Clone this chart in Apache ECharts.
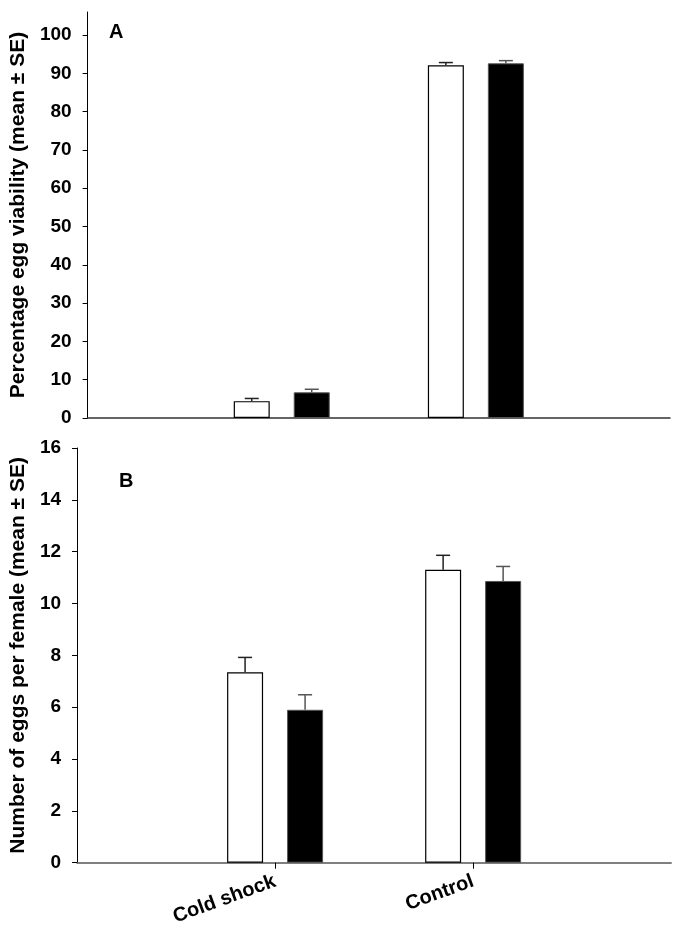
<!DOCTYPE html>
<html>
<head>
<meta charset="utf-8">
<script src="https://cdn.jsdelivr.net/npm/echarts@6/dist/echarts.min.js"></script>
<style>html,body{margin:0;padding:0;background:#fff}#c{width:674px;height:928px}</style>
</head>
<body>
<div id="c"></div>
<script>
const categories = ['', 'Cold shock', 'Control', ''];
// Panel A: percentage egg viability
const viabilityWhite = [null, 4.4, 92.1, null];
const viabilityWhiteSE = [null, 0.7, 0.7, null];
const viabilityBlack = [null, 6.7, 92.6, null];
const viabilityBlackSE = [null, 0.8, 0.7, null];
// Panel B: number of eggs per female
const eggsWhite = [null, 7.35, 11.3, null];
const eggsWhiteSE = [null, 0.57, 0.56, null];
const eggsBlack = [null, 5.9, 10.87, null];
const eggsBlackSE = [null, 0.58, 0.56, null];
const ticksA = [0, 10, 20, 30, 40, 50, 60, 70, 80, 90, 100];
const ticksB = [0, 2, 4, 6, 8, 10, 12, 14, 16];

const FONT = 'Liberation Sans';
const BAR_W = 36;
const BAR_GAP_PX = 24;

function errData(means, ses, sign) {
  const out = [];
  means.forEach((m, i) => { if (m != null) out.push([i, m, ses[i], sign]); });
  return out;
}
function errSeries(idx, means, ses, sign, color) {
  return {
    type: 'custom', xAxisIndex: idx, yAxisIndex: idx, z: 5,
    data: errData(means, ses, sign),
    renderItem: function (params, api) {
      const off = api.value(3) * (BAR_W + BAR_GAP_PX) / 2;
      const p0 = api.coord([api.value(0), api.value(1)]);
      const p1 = api.coord([api.value(0), api.value(1) + api.value(2)]);
      const x = p0[0] + off;
      const cw = 7;
      return {
        type: 'group',
        children: [
          { type: 'line', shape: { x1: x, y1: p0[1], x2: x, y2: p1[1] }, style: { stroke: color, lineWidth: 1.5 } },
          { type: 'line', shape: { x1: x - cw, y1: p1[1], x2: x + cw, y2: p1[1] }, style: { stroke: color, lineWidth: 1.5 } }
        ]
      };
    }
  };
}
const tickLabelStyle = { fontFamily: FONT, fontWeight: 'bold', fontSize: 19, color: '#000' };
const titleStyle = { fontFamily: FONT, fontWeight: 'bold', fontSize: 21, color: '#000' };

const chart = echarts.init(document.getElementById('c'), null, { renderer: 'canvas' });
chart.setOption({
  animation: false,
  backgroundColor: '#fff',
  grid: [
    { left: 73, right: 4, top: 12, bottom: 510 },
    { left: 73, right: 2, top: 448, bottom: 62 }
  ],
  xAxis: [
    { type: 'category', gridIndex: 0, data: categories, boundaryGap: false,
      axisLine: { lineStyle: { color: '#333', width: 1.5 } },
      axisTick: { show: false }, axisLabel: { show: false } },
    { type: 'category', gridIndex: 1, data: categories, boundaryGap: false,
      axisLine: { lineStyle: { color: '#555', width: 1.5 } },
      axisTick: { show: true, length: 6, interval: (i, v) => v !== '', lineStyle: { color: '#000' } },
      axisLabel: Object.assign({ rotate: 20, margin: 18, interval: 0 }, tickLabelStyle, { fontSize: 20 }) }
  ],
  yAxis: [
    { type: 'value', gridIndex: 0, min: 0, max: 106,
      name: 'Percentage egg viability (mean ± SE)', nameLocation: 'middle', nameGap: 48,
      nameTextStyle: titleStyle,
      axisLine: { show: true, lineStyle: { color: '#000', width: 1 } },
      axisTick: { show: true, length: 5, customValues: ticksA, lineStyle: { color: '#000' } },
      axisLabel: Object.assign({ margin: 16, customValues: ticksA }, tickLabelStyle),
      splitLine: { show: false } },
    { type: 'value', gridIndex: 1, min: 0, max: 16,
      name: 'Number of eggs per female (mean ± SE)', nameLocation: 'middle', nameGap: 48,
      nameTextStyle: titleStyle,
      axisLine: { show: true, lineStyle: { color: '#000', width: 1 } },
      axisTick: { show: true, length: 5, customValues: ticksB, lineStyle: { color: '#000' } },
      axisLabel: Object.assign({ margin: 16, customValues: ticksB }, tickLabelStyle),
      splitLine: { show: false } }
  ],
  graphic: [
    { type: 'text', left: 109, top: 22, style: { text: 'A', font: 'bold 20px "Liberation Sans"', fill: '#000' } },
    { type: 'text', left: 119, top: 471, style: { text: 'B', font: 'bold 20px "Liberation Sans"', fill: '#000' } }
  ],
  series: [
    { type: 'bar', xAxisIndex: 0, yAxisIndex: 0, data: viabilityWhite, barWidth: BAR_W, barGap: (BAR_GAP_PX / BAR_W * 100) + '%',
      itemStyle: { color: '#fff', borderColor: '#000', borderWidth: 1.2 } },
    { type: 'bar', xAxisIndex: 0, yAxisIndex: 0, data: viabilityBlack, barWidth: BAR_W, barGap: (BAR_GAP_PX / BAR_W * 100) + '%',
      itemStyle: { color: '#000', borderColor: '#555', borderWidth: 1 } },
    { type: 'bar', xAxisIndex: 1, yAxisIndex: 1, data: eggsWhite, barWidth: BAR_W, barGap: (BAR_GAP_PX / BAR_W * 100) + '%',
      itemStyle: { color: '#fff', borderColor: '#000', borderWidth: 1.2 } },
    { type: 'bar', xAxisIndex: 1, yAxisIndex: 1, data: eggsBlack, barWidth: BAR_W, barGap: (BAR_GAP_PX / BAR_W * 100) + '%',
      itemStyle: { color: '#000', borderColor: '#555', borderWidth: 1 } },
    errSeries(0, viabilityWhite, viabilityWhiteSE, -1, '#222'),
    errSeries(0, viabilityBlack, viabilityBlackSE, 1, '#555'),
    errSeries(1, eggsWhite, eggsWhiteSE, -1, '#222'),
    errSeries(1, eggsBlack, eggsBlackSE, 1, '#555')
  ]
});
</script>
</body>
</html>
